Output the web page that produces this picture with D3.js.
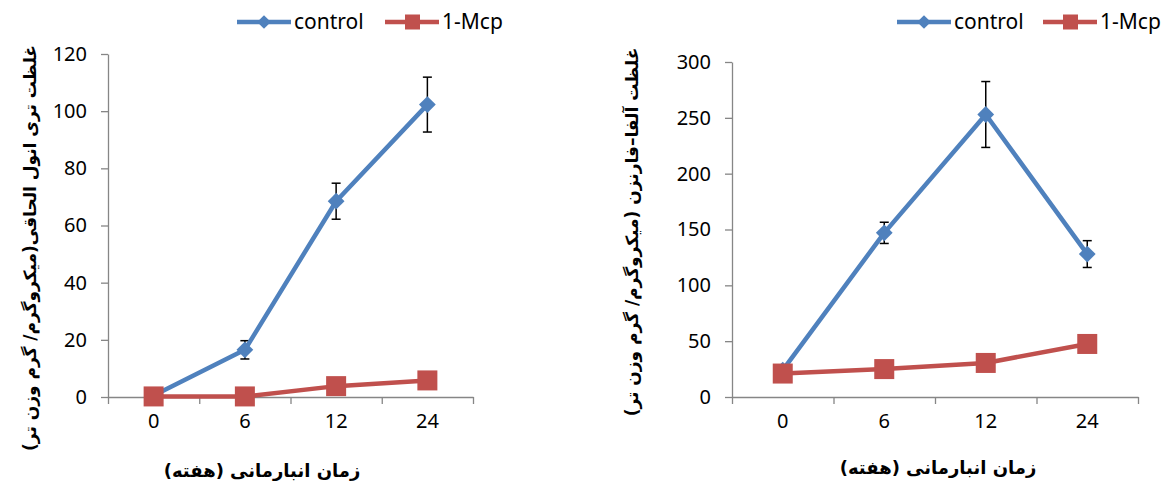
<!DOCTYPE html>
<html>
<head>
<meta charset="utf-8">
<script src="https://cdn.jsdelivr.net/npm/d3@7"></script>
<style>
  body { margin: 0; background: #fff; }
  svg { display: block; }
  .tick text { font-family: "Noto Sans", "Open Sans", sans-serif; font-size: 20px; fill: #000; }
  .fa { font-family: "DejaVu Sans", sans-serif; font-weight: bold; fill: #000; }
</style>
</head>
<body>
<svg id="chart" width="1171" height="486"></svg>
<script>
// storage time (weeks)
var weeks = ['0', '6', '12', '24'];
var seriesNames = ['control', '1-Mcp'];

// left panel: conjugated trienol
var trienolControl = [0.5, 16.5, 68.5, 102.3];
var trienolControlErr = [0, 3.2, 6.3, 9.6];
var trienolMcp = [0.2, 0.2, 3.8, 5.8];
var trienolTicks = [0, 20, 40, 60, 80, 100, 120];

// right panel: alpha-farnesene
var farneseneControl = [24, 147, 253, 128];
var farneseneControlErr = [0, 9.5, 29.5, 12];
var farneseneMcp = [21, 25, 30.5, 47.5];
var farneseneTicks = [0, 50, 100, 150, 200, 250, 300];

var xTitle = 'زمان انبارمانی (هفته)';
var yTitleLeft = 'غلظت تری انول الحاقی(میکروگرم/ گرم وزن تر)';
var yTitleRight = 'غلظت آلفا–فارنزن (میکروگرم/ گرم وزن تر)';

var BLUE = '#4f81bd', RED = '#c0504d', AXIS = '#868686';

var svg = d3.select('#chart');

function panel(opt) {
  var g = svg.append('g');
  var x = d3.scaleBand().domain(weeks).range([opt.left, opt.right]).padding(0);
  var y = d3.scaleLinear().domain([0, opt.max]).range([opt.bottom, opt.top]);

  // y axis
  var yAxis = d3.axisLeft(y).tickValues(opt.ticks).tickSize(7).tickPadding(14).tickSizeOuter(0);
  var ya = g.append('g').attr('transform', 'translate(' + opt.left + ',0)').call(yAxis);
  ya.select('.domain').attr('stroke', AXIS).attr('stroke-width', 1.3);
  ya.selectAll('.tick line').attr('stroke', AXIS).attr('stroke-width', 1.3);

  // x axis: boundary ticks and category labels
  var xb = d3.scaleLinear().domain([0, weeks.length]).range([opt.left, opt.right]);
  var xBound = d3.axisBottom(xb).ticks(weeks.length).tickFormat('').tickSize(7).tickSizeOuter(0);
  var xa = g.append('g').attr('transform', 'translate(0,' + opt.bottom + ')').call(xBound);
  xa.select('.domain').attr('stroke', AXIS).attr('stroke-width', 1.3);
  xa.selectAll('.tick line').attr('stroke', AXIS).attr('stroke-width', 1.3);

  var xLab = d3.axisBottom(x).tickSize(0).tickPadding(17);
  var xl = g.append('g').attr('transform', 'translate(0,' + opt.bottom + ')').call(xLab);
  xl.select('.domain').remove();

  var cx = function(d, i) { return x(weeks[i]) + x.bandwidth() / 2; };

  // error bars (control only)
  opt.control.forEach(function(v, i) {
    var e = opt.err[i];
    if (!e) return;
    var xc = cx(v, i);
    g.append('line').attr('x1', xc).attr('x2', xc).attr('y1', y(v - e)).attr('y2', y(v + e))
      .attr('stroke', '#000').attr('stroke-width', 1.5);
    [v - e, v + e].forEach(function(t) {
      g.append('line').attr('x1', xc - 4.5).attr('x2', xc + 4.5).attr('y1', y(t)).attr('y2', y(t))
        .attr('stroke', '#000').attr('stroke-width', 1.5);
    });
  });

  var line = d3.line().x(cx).y(function(d) { return y(d); });

  g.append('path').datum(opt.control).attr('d', line)
    .attr('fill', 'none').attr('stroke', BLUE).attr('stroke-width', 4.5).attr('stroke-linejoin', 'round');
  g.append('path').datum(opt.mcp).attr('d', line)
    .attr('fill', 'none').attr('stroke', RED).attr('stroke-width', 4.5).attr('stroke-linejoin', 'round');

  g.selectAll('.dia').data(opt.control).join('path').attr('class', 'dia')
    .attr('d', d3.symbol(d3.symbolDiamond2, 180)())
    .attr('transform', function(d, i) { return 'translate(' + cx(d, i) + ',' + y(d) + ')'; })
    .attr('fill', BLUE);
  g.selectAll('.sq').data(opt.mcp).join('rect').attr('class', 'sq')
    .attr('x', function(d, i) { return cx(d, i) - 10; })
    .attr('y', function(d) { return y(d) - 10; })
    .attr('width', 20).attr('height', 20).attr('fill', RED);

  // titles
  g.append('text').attr('class', 'fa').attr('direction', 'rtl')
    .attr('x', opt.xTitleX).attr('y', opt.xTitleY).attr('text-anchor', 'middle')
    .attr('font-size', 18).text(xTitle);
  g.append('text').attr('class', 'fa').attr('direction', 'rtl')
    .attr('transform', 'translate(' + opt.yTitleX + ',' + opt.yTitleY + ') rotate(-90)')
    .attr('text-anchor', 'middle').attr('font-size', 17).text(opt.yTitle);

  // legend
  var lg = g.append('g').attr('transform', 'translate(' + opt.legendX + ',' + opt.legendY + ')');
  var items = [
    { name: seriesNames[0], color: BLUE, off: 0 },
    { name: seriesNames[1], color: RED, off: opt.legendGap }
  ];
  items.forEach(function(it, k) {
    var li = lg.append('g').attr('transform', 'translate(' + it.off + ',0)');
    li.append('line').attr('x1', 0).attr('x2', 54).attr('y1', 0).attr('y2', 0)
      .attr('stroke', it.color).attr('stroke-width', 4.5);
    if (k === 0) {
      li.append('path').attr('d', d3.symbol(d3.symbolDiamond2, 120)())
        .attr('transform', 'translate(27,0)').attr('fill', it.color);
    } else {
      li.append('rect').attr('x', 20).attr('y', -7.5).attr('width', 15).attr('height', 15).attr('fill', it.color);
    }
    li.append('text').attr('x', 57).attr('y', 0).attr('dy', '0.35em')
      .style('font-family', '"Noto Sans", "Open Sans", sans-serif').style('font-size', '21px')
      .text(it.name);
  });
}

panel({
  left: 108, right: 473, top: 54, bottom: 397, max: 120, ticks: trienolTicks,
  control: trienolControl, err: trienolControlErr, mcp: trienolMcp,
  xTitleX: 262, xTitleY: 477, yTitleX: 36, yTitleY: 248, yTitle: yTitleLeft,
  legendX: 237, legendY: 22, legendGap: 148
});

panel({
  left: 732, right: 1138, top: 62, bottom: 397, max: 300, ticks: farneseneTicks,
  control: farneseneControl, err: farneseneControlErr, mcp: farneseneMcp,
  xTitleX: 938, xTitleY: 474, yTitleX: 638, yTitleY: 232, yTitle: yTitleRight,
  legendX: 897, legendY: 22, legendGap: 146
});
</script>
</body>
</html>
